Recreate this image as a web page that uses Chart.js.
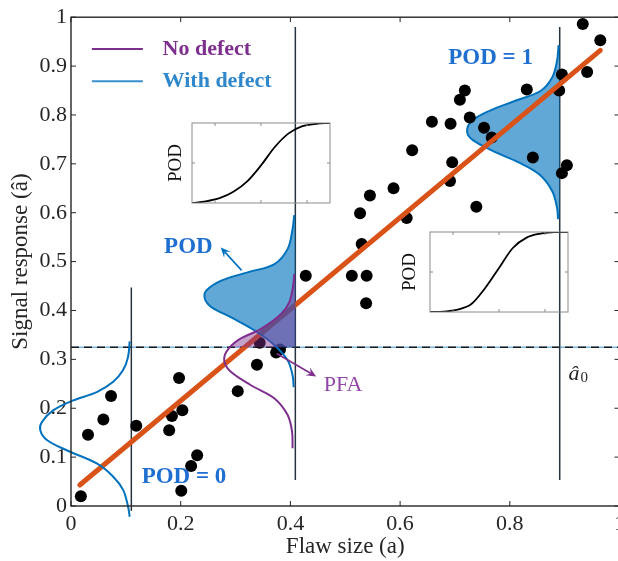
<!DOCTYPE html>
<html>
<head>
<meta charset="utf-8">
<title>Signal response vs flaw size</title>
<script src="https://cdn.jsdelivr.net/npm/chart.js@4.4.1/dist/chart.umd.min.js"></script>
<style>
  html, body { margin: 0; padding: 0; background: #fff; }
  #stage { position: relative; width: 618px; height: 561px; overflow: hidden; }
  #stage canvas { position: absolute; }
</style>
</head>
<body>
<div id="stage">
  <canvas id="main" width="630" height="561" style="left:0;top:0"></canvas>
  <canvas id="inset1" width="175" height="90" style="left:160px;top:118px"></canvas>
  <canvas id="inset2" width="175" height="90" style="left:398px;top:227px"></canvas>
</div>
<script>
// ─── Measurements ─────────────────────────────────────────────
const flawSize = [0.018, 0.031, 0.059, 0.073, 0.119, 0.179, 0.184, 0.197, 0.203, 0.201,
                  0.219, 0.230, 0.304, 0.339, 0.344, 0.374, 0.381, 0.428, 0.512, 0.539,
                  0.538, 0.530, 0.527, 0.545, 0.588, 0.612, 0.622, 0.658, 0.692, 0.691,
                  0.695, 0.709, 0.718, 0.727, 0.739, 0.753, 0.767, 0.831, 0.842, 0.890,
                  0.895, 0.895, 0.904, 0.933, 0.941, 0.965];
const signal   = [0.020, 0.146, 0.177, 0.225, 0.164, 0.155, 0.184, 0.262, 0.196, 0.031,
                  0.082, 0.104, 0.235, 0.289, 0.334, 0.314, 0.320, 0.471, 0.471, 0.471,
                  0.415, 0.536, 0.599, 0.635, 0.650, 0.589, 0.728, 0.786, 0.782, 0.665,
                  0.703, 0.831, 0.850, 0.795, 0.612, 0.774, 0.754, 0.852, 0.713, 0.850,
                  0.883, 0.681, 0.697, 0.986, 0.888, 0.953];

// linear fit of signal on flaw size (end points)
const fitX = [0.016, 0.965];
const fitY = [0.043, 0.932];

// decision threshold â0
const threshold = 0.325;

const xTicks = [0, 0.2, 0.4, 0.6, 0.8, 1];
const xTickLabels = ['0', '0.2', '0.4', '0.6', '0.8', '1'];
const yTicks = [0, 0.1, 0.2, 0.3, 0.4, 0.5, 0.6, 0.7, 0.8, 0.9, 1];
const yTickLabels = ['0', '0.1', '0.2', '0.3', '0.4', '0.5', '0.6', '0.7', '0.8', '0.9', '1'];

// vertical guides at three flaw sizes
const guideX      = [0.11, 0.409, 0.891];
const guideTop    = [0.447, 0.98, 0.98];
const guideBottom = [-0.01, 0.053, 0.053];

// response densities drawn sideways at each guide (bottom -> top)
const pdfLowY  = [-0.022, -0.001, 0.033, 0.060, 0.087, 0.114, 0.135, 0.155, 0.172, 0.196, 0.216, 0.233, 0.254, 0.278, 0.305, 0.337];
const pdfLowX  = [0.107, 0.104, 0.095, 0.077, 0.047, -0.008, -0.044, -0.056, -0.053, -0.032, 0.004, 0.047, 0.077, 0.095, 0.104, 0.107];
const pdfMidY  = [0.243, 0.267, 0.298, 0.329, 0.359, 0.386, 0.407, 0.424, 0.441, 0.461, 0.478, 0.495, 0.526, 0.567, 0.595];
const pdfMidX  = [0.406, 0.404, 0.395, 0.371, 0.335, 0.292, 0.256, 0.244, 0.247, 0.274, 0.322, 0.371, 0.395, 0.404, 0.407];
const noiseY   = [0.118, 0.152, 0.186, 0.220, 0.247, 0.274, 0.294, 0.315, 0.339, 0.363, 0.393, 0.417, 0.451, 0.475];
const noiseX   = [0.404, 0.403, 0.395, 0.371, 0.328, 0.292, 0.280, 0.283, 0.304, 0.347, 0.383, 0.398, 0.405, 0.407];
const pdfHighY = [0.587, 0.611, 0.645, 0.679, 0.703, 0.727, 0.750, 0.767, 0.788, 0.808, 0.829, 0.849, 0.876, 0.910, 0.943];
const pdfHighX = [0.888, 0.886, 0.877, 0.853, 0.816, 0.768, 0.731, 0.722, 0.731, 0.762, 0.810, 0.856, 0.877, 0.886, 0.889];

// small POD curves
const podGrid   = [0, 0.6, 1.2, 1.8, 2.4, 3.0, 3.6, 4.2, 4.8, 5.4, 6.0];
const podCurveA = [0, 0.02, 0.06, 0.14, 0.27, 0.47, 0.70, 0.87, 0.96, 0.99, 1.0];
const podCurveB = [0, 0.005, 0.03, 0.10, 0.30, 0.55, 0.80, 0.93, 0.98, 1.0, 1.0];
const podTicksX = [1, 3, 5];
const podTicksY = [0.5];

// ─── Styles ───────────────────────────────────────────────────
const BLUE = '#0072bd', PURPLE = '#7e2f8e', ORANGE = '#d95319';
const GUIDE = '#26343f', INK = '#262626';
const SERIF = '"Liberation Serif", "Times New Roman", serif';

const notes = [
  { text: 'POD = 1', x: 0.765, y: 0.916, color: '#1f6fd1', font: 'bold 23px' },
  { text: 'POD = 0', x: 0.206, y: 0.059, color: '#1f6fd1', font: 'bold 23px' },
  { text: 'POD',     x: 0.214, y: 0.529, color: '#1f6fd1', font: 'bold 23px' },
  { text: 'PFA',     x: 0.496, y: 0.248, color: '#9146a8', font: '22px' },
];
const arrows = [
  { from: [0.311, 0.482], to: [0.273, 0.529], color: BLUE },
  { from: [0.375, 0.312], to: [0.447, 0.265], color: PURPLE },
];
const legendItems = [
  { label: 'No defect',   line: PURPLE,    text: PURPLE,    y: 0.935 },
  { label: 'With defect', line: '#3a8fd0', text: '#2f87cc', y: 0.869 },
];

Chart.defaults.font.family = SERIF;

const pts = (xs, ys) => xs.map((x, i) => ({ x, y: ys[i] }));

// ─── Plugins ──────────────────────────────────────────────────
// box around the plot area with inward tick marks on every side
const axisFrame = {
  id: 'axisFrame',
  afterDatasetsDraw(chart, args, opts) {
    const { ctx, chartArea: a, scales: { x, y } } = chart;
    ctx.save();
    ctx.strokeStyle = opts.color;
    ctx.lineWidth = opts.width;
    ctx.strokeRect(a.left, a.top, a.right - a.left, a.bottom - a.top);
    ctx.lineWidth = 1;
    ctx.beginPath();
    opts.xTicks.forEach(v => {
      const px = x.getPixelForValue(v);
      ctx.moveTo(px, a.bottom); ctx.lineTo(px, a.bottom - opts.len);
      ctx.moveTo(px, a.top);    ctx.lineTo(px, a.top + opts.len);
    });
    opts.yTicks.forEach(v => {
      const py = y.getPixelForValue(v);
      ctx.moveTo(a.left, py);  ctx.lineTo(a.left + opts.len, py);
      ctx.moveTo(a.right, py); ctx.lineTo(a.right - opts.len, py);
    });
    ctx.stroke();
    ctx.restore();
  }
};

// shades the part of a density that lies above the threshold
const densityShade = {
  id: 'densityShade',
  beforeDatasetDraw(chart, args) {
    const ds = chart.data.datasets[args.index];
    if (!ds.shade) return;
    const line = args.meta.dataset;
    const points = args.meta.data;
    if (!line || !points.length) return;
    line.updateControlPoints(chart.chartArea, 'x');
    const { ctx, scales: { x, y } } = chart;
    const base = x.getPixelForValue(ds.shade.base);
    const cut = y.getPixelForValue(threshold);
    ctx.save();
    ctx.beginPath();
    ctx.rect(0, 0, chart.width, cut);
    ctx.clip();
    ctx.beginPath();
    line.path(ctx);
    ctx.lineTo(base, points[points.length - 1].y);
    ctx.lineTo(base, points[0].y);
    ctx.closePath();
    ctx.fillStyle = ds.shade.color;
    ctx.fill();
    ctx.restore();
  }
};

function drawArrow(ctx, x1, y1, x2, y2, color) {
  const a = Math.atan2(y2 - y1, x2 - x1);
  const len = 10, half = 4.5, c = Math.cos(a), s = Math.sin(a);
  ctx.strokeStyle = color;
  ctx.fillStyle = color;
  ctx.lineWidth = 1.6;
  ctx.beginPath();
  ctx.moveTo(x1, y1);
  ctx.lineTo(x2 - 6 * c, y2 - 6 * s);
  ctx.stroke();
  ctx.beginPath();
  ctx.moveTo(x2, y2);
  ctx.lineTo(x2 - len * c + half * s, y2 - len * s - half * c);
  ctx.lineTo(x2 - 6 * c, y2 - 6 * s);
  ctx.lineTo(x2 - len * c - half * s, y2 - len * s + half * c);
  ctx.closePath();
  ctx.fill();
}

// legend, annotations, arrows and the â0 marker
const annotations = {
  id: 'annotations',
  afterDraw(chart) {
    const { ctx, scales: { x, y } } = chart;
    ctx.save();
    ctx.textBaseline = 'middle';

    legendItems.forEach(item => {
      const py = y.getPixelForValue(item.y);
      ctx.strokeStyle = item.line;
      ctx.lineWidth = 2;
      ctx.beginPath();
      ctx.moveTo(x.getPixelForValue(0.038), py);
      ctx.lineTo(x.getPixelForValue(0.131), py);
      ctx.stroke();
      ctx.fillStyle = item.text;
      ctx.font = `bold 22px ${SERIF}`;
      ctx.textAlign = 'left';
      ctx.fillText(item.label, x.getPixelForValue(0.167), py);
    });

    notes.forEach(n => {
      ctx.fillStyle = n.color;
      ctx.font = `${n.font} ${SERIF}`;
      ctx.textAlign = 'center';
      ctx.fillText(n.text, x.getPixelForValue(n.x), y.getPixelForValue(n.y));
    });

    arrows.forEach(a => drawArrow(ctx,
      x.getPixelForValue(a.from[0]), y.getPixelForValue(a.from[1]),
      x.getPixelForValue(a.to[0]), y.getPixelForValue(a.to[1]), a.color));

    // â0 next to the threshold
    const hx = x.getPixelForValue(0.907), hy = y.getPixelForValue(0.257);
    ctx.fillStyle = INK;
    ctx.textBaseline = 'alphabetic';
    ctx.textAlign = 'left';
    ctx.font = `italic 22px ${SERIF}`;
    ctx.fillText('â', hx, hy);
    ctx.font = `15px ${SERIF}`;
    ctx.fillText('0', hx + 12, hy + 2);
    ctx.restore();
  }
};

// ─── Main plot ────────────────────────────────────────────────
function lineSet(data, color, width, extra) {
  return Object.assign({
    type: 'line', data, borderColor: color, borderWidth: width,
    pointRadius: 0, fill: false, tension: 0.35
  }, extra || {});
}

const layers = [
  lineSet(pts([0, 1], [threshold, threshold]), '#7db9e6', 1.5, { tension: 0 }),
  lineSet(pts([0, 1], [threshold, threshold]), '#1a1a1a', 1.5, { tension: 0, borderDash: [8, 5] }),
  ...guideX.map((gx, i) => lineSet(pts([gx, gx], [guideBottom[i], guideTop[i]]), GUIDE, 1.5,
      { tension: 0, clip: false })),
  lineSet(pts(pdfHighX, pdfHighY), BLUE, 2, { shade: { base: guideX[2], color: 'rgba(0,114,189,0.62)' } }),
  { type: 'scatter', data: pts(flawSize, signal), pointRadius: 6, pointBackgroundColor: '#000',
    pointBorderWidth: 0, showLine: false },
  lineSet(pts(fitX, fitY), ORANGE, 5, { tension: 0, borderCapStyle: 'round' }),
  lineSet(pts(pdfMidX, pdfMidY), BLUE, 2, { shade: { base: guideX[1], color: 'rgba(0,114,189,0.62)' } }),
  lineSet(pts(noiseX, noiseY), PURPLE, 2, { shade: { base: guideX[1], color: 'rgba(126,47,142,0.45)' } }),
  lineSet(pts(pdfLowX, pdfLowY), BLUE, 2, { clip: false }),
];
layers.forEach((d, i) => { d.order = layers.length - i; });

new Chart(document.getElementById('main'), {
  type: 'line',
  data: { datasets: layers },
  options: {
    responsive: false,
    animation: false,
    events: [],
    layout: { padding: { left: 0, top: 16, right: 9, bottom: 0 } },
    elements: { line: { capBezierPoints: false } },
    plugins: {
      legend: { display: false },
      tooltip: { enabled: false },
      axisFrame: { color: INK, width: 1.4, len: 5, xTicks, yTicks },
    },
    scales: {
      x: {
        type: 'linear', min: 0, max: 1,
        afterBuildTicks: s => { s.ticks = xTicks.map(v => ({ value: v })); },
        afterFit: s => { s.height = 55; },
        grid: { display: false, drawTicks: false }, border: { display: false },
        ticks: { padding: 5, color: INK, autoSkip: false, maxRotation: 0,
                 font: { size: 22 }, callback: (v, i) => xTickLabels[i] },
        title: { display: true, text: 'Flaw size (a)', color: INK,
                 font: { size: 23 }, padding: { top: 0, bottom: 0 } },
      },
      y: {
        type: 'linear', min: 0, max: 1,
        afterBuildTicks: s => { s.ticks = yTicks.map(v => ({ value: v })); },
        afterFit: s => { s.width = 71; },
        grid: { display: false, drawTicks: false }, border: { display: false },
        ticks: { padding: 4, color: INK, autoSkip: false,
                 font: { size: 22 }, callback: (v, i) => yTickLabels[i] },
        title: { display: true, text: 'Signal response (â)', color: INK,
                 font: { size: 23 }, padding: { top: 7, bottom: 0 } },
      },
    },
  },
  plugins: [axisFrame, densityShade, annotations],
});

// ─── POD insets ───────────────────────────────────────────────
function podInset(id, values, titlePad) {
  return new Chart(document.getElementById(id), {
    type: 'line',
    data: {
      datasets: [{ data: pts(podGrid, values), borderColor: '#000', borderWidth: 1.8,
                   pointRadius: 0, cubicInterpolationMode: 'monotone' }]
    },
    options: {
      responsive: false,
      animation: false,
      events: [],
      layout: { padding: { left: 0, top: 5, right: 5, bottom: 5 } },
      plugins: {
        legend: { display: false },
        tooltip: { enabled: false },
        axisFrame: { color: '#8c8c8c', width: 1, len: 3, xTicks: podTicksX, yTicks: podTicksY },
      },
      scales: {
        x: { type: 'linear', min: 0, max: 6, display: false },
        y: {
          type: 'linear', min: 0, max: 1,
          afterFit: s => { s.width = 32; },
          grid: { display: false }, border: { display: false },
          ticks: { display: false },
          title: { display: true, text: 'POD', color: '#111',
                   font: { size: 19 }, padding: { top: titlePad, bottom: 0 } },
        },
      },
    },
    plugins: [axisFrame],
  });
}

podInset('inset1', podCurveA, 5);
podInset('inset2', podCurveB, 1);
</script>
</body>
</html>
